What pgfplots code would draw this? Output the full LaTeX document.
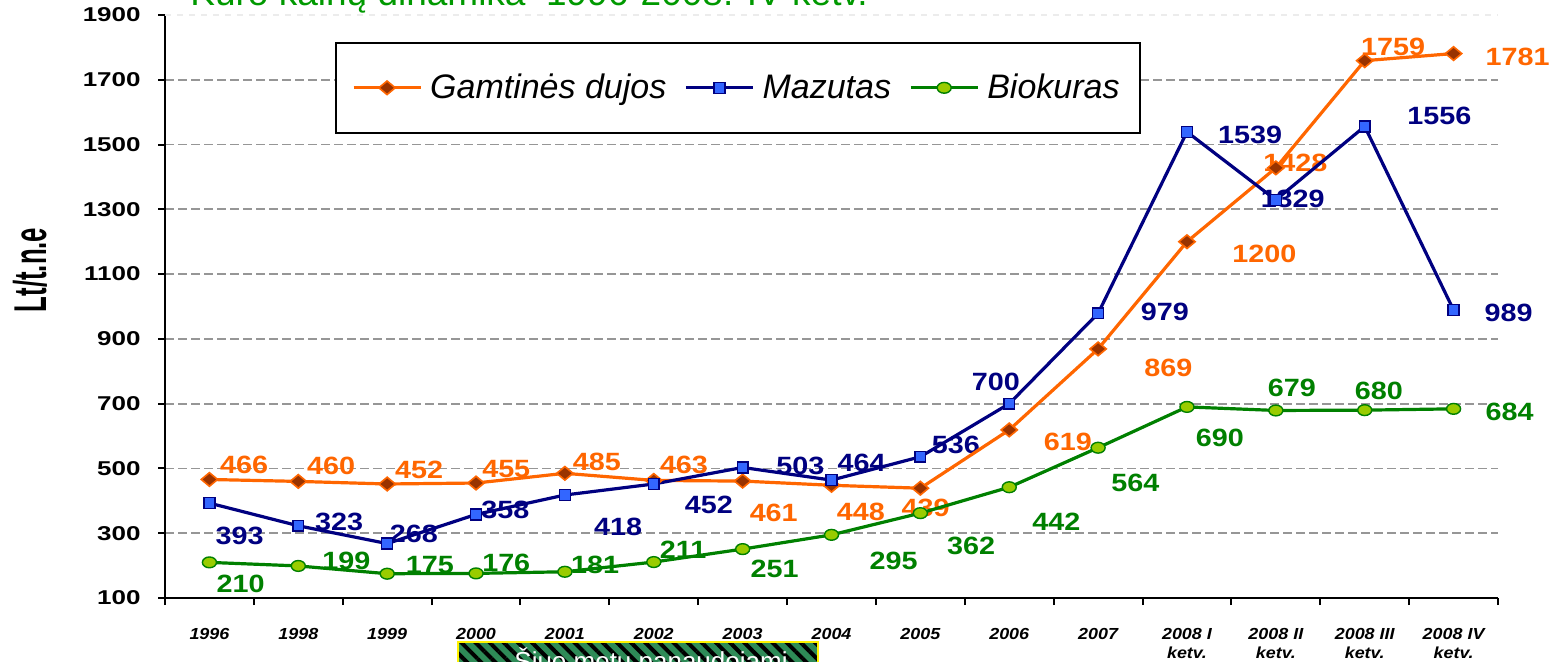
\documentclass[border=0pt]{standalone}
\usepackage{pgfplots}
\pgfplotsset{compat=1.18}
\usepackage{fontspec}
\setmainfont{Liberation Sans}
\usetikzlibrary{patterns.meta}
\definecolor{cOr}{RGB}{255,102,0}
\definecolor{cBr}{RGB}{153,51,0}
\definecolor{cNa}{RGB}{0,0,128}
\definecolor{cBl}{RGB}{51,102,255}
\definecolor{cGr}{RGB}{0,128,0}
\definecolor{cYg}{RGB}{153,204,0}
\definecolor{cTitle}{RGB}{0,153,0}
\definecolor{cGrid}{RGB}{150,150,150}
\definecolor{cBox}{RGB}{46,139,87}
\newcommand{\dl}[1]{\scalebox{1.15}[1]{#1}}
\newcommand{\yl}[1]{\scalebox{1.3}[1]{#1}}
\newcommand{\xl}[1]{\scalebox{1.12}[1]{#1}}
\tikzset{lbl/.style={font=\bfseries\fontsize{12.5}{13}\selectfont, inner sep=0pt}}
\begin{document}
\begin{tikzpicture}
\useasboundingbox (0,0) rectangle (778pt,-331pt);
\clip (0,0) rectangle (778pt,-331pt);
\node[anchor=base west, text=cTitle, font=\fontsize{18.5}{20}\selectfont, inner sep=0pt] at (95pt,-3pt) {Kuro kainų dinamika\ \ 1996-2008. IV ketv.};
\node[rotate=90, inner sep=0pt] at (15pt,-135pt) {\scalebox{0.56}[1]{\bfseries\fontsize{23}{24}\selectfont Lt/t.n.e}};
\fill[cBox] (229pt,-321pt) rectangle (409pt,-345pt);
\fill[pattern={Lines[angle=-45,distance=5pt,line width=2pt]}, pattern color=black] (229pt,-321pt) rectangle (409pt,-345pt);
\draw[yellow, line width=1pt] (229pt,-321pt) rectangle (409pt,-345pt);
\node[anchor=base, text=white, font=\fontsize{13}{14}\selectfont, inner sep=0pt] at (325.5pt,-335.3pt) {Šiuo metu panaudojami};
\begin{axis}[
  at={(82.5pt,-299pt)}, anchor=south west,
  scale only axis, width=666.5pt, height=291.5pt,
  xmin=-0.5, xmax=14.5, ymin=100, ymax=1900,
  axis x line*=bottom, axis y line*=left,
  axis line style={line width=1.2pt, black},
  tick align=outside, major tick length=3.5pt,
  tick style={black, line width=1pt},
  xtick={-0.5,0.5,...,14.5},
  x tick label as interval,
  xticklabels={\xl{1996},\xl{1998},\xl{1999},\xl{2000},\xl{2001},\xl{2002},\xl{2003},\xl{2004},\xl{2005},\xl{2006},\xl{2007},{\xl{2008 I}\\\xl{ketv.}},{\xl{2008 II}\\\xl{ketv.}},{\xl{2008 III}\\\xl{ketv.}},{\xl{2008 IV}\\\xl{ketv.}}},
  xticklabel style={font=\bfseries\itshape\fontsize{8}{9.5}\selectfont, align=center, anchor=north, inner sep=0pt, yshift=-11.5pt},
  ytick={100,300,500,700,900,1100,1300,1500,1700},
  yticklabels={\yl{100},\yl{300},\yl{500},\yl{700},\yl{900},\yl{1100},\yl{1300},\yl{1500},\yl{1700}},
  extra y ticks={1900}, extra y tick labels={\yl{1900}},
  extra y tick style={grid style={gray!15, dashed, line width=0.8pt}},
  yticklabel style={font=\bfseries\fontsize{10}{11}\selectfont, anchor=east, inner sep=0pt, xshift=-8.5pt},
  ymajorgrids,
  grid style={cGrid, line width=0.9pt, dash pattern=on 4.5pt off 2pt},
  clip=false,
  legend columns=3,
  legend image code/.code={\draw[mark repeat=2,mark phase=2] plot coordinates {(0pt,0pt) (16.75pt,0pt) (33.5pt,0pt)};},
  legend style={at={(axis description cs:0.1275,0.9537)}, anchor=north west, draw=black, line width=1pt, fill=white,
    font=\itshape\fontsize{17}{18}\selectfont, inner xsep=8pt, inner ysep=13.5pt,
    /tikz/every even column/.append style={column sep=7pt},
    /tikz/every odd column/.append style={column sep=2pt}},
]
% labels (drawn beneath the series)
\node[lbl, text=cOr] at (axis cs:0.39,510.6) {\dl{466}};
\node[lbl, text=cOr] at (axis cs:1.37,507.5) {\dl{460}};
\node[lbl, text=cOr] at (axis cs:2.36,497) {\dl{452}};
\node[lbl, text=cOr] at (axis cs:3.34,498.3) {\dl{455}};
\node[lbl, text=cOr] at (axis cs:4.36,519.9) {\dl{485}};
\node[lbl, text=cOr] at (axis cs:5.34,510.6) {\dl{463}};
\node[lbl, text=cOr] at (axis cs:6.35,363.4) {\dl{461}};
\node[lbl, text=cOr] at (axis cs:7.33,366.5) {\dl{448}};
\node[lbl, text=cOr] at (axis cs:8.06,377) {\dl{439}};
\node[lbl, text=cOr] at (axis cs:9.66,582.6) {\dl{619}};
\node[lbl, text=cOr] at (axis cs:10.79,809.2) {\dl{869}};
\node[lbl, text=cOr] at (axis cs:11.87,1163) {\dl{1200}};
\node[lbl, text=cOr] at (axis cs:12.22,1442) {\dl{1428}};
\node[lbl, text=cOr] at (axis cs:13.32,1802) {\dl{1759}};
\node[lbl, text=cOr] at (axis cs:14.72,1771) {\dl{1781}};
\node[lbl, text=cNa] at (axis cs:0.34,292.7) {\dl{393}};
\node[lbl, text=cNa] at (axis cs:1.46,334.6) {\dl{323}};
\node[lbl, text=cNa] at (axis cs:2.30,297.6) {\dl{268}};
\node[lbl, text=cNa] at (axis cs:3.33,371.7) {\dl{358}};
\node[lbl, text=cNa] at (axis cs:4.60,319.2) {\dl{418}};
\node[lbl, text=cNa] at (axis cs:5.62,387.1) {\dl{452}};
\node[lbl, text=cNa] at (axis cs:6.65,508.5) {\dl{503}};
\node[lbl, text=cNa] at (axis cs:7.34,517.7) {\dl{464}};
\node[lbl, text=cNa] at (axis cs:8.40,572.4) {\dl{536}};
\node[lbl, text=cNa] at (axis cs:8.85,766) {\dl{700}};
\node[lbl, text=cNa] at (axis cs:10.75,982) {\dl{979}};
\node[lbl, text=cNa] at (axis cs:11.71,1529.5) {\dl{1539}};
\node[lbl, text=cNa] at (axis cs:12.19,1331) {\dl{1329}};
\node[lbl, text=cNa] at (axis cs:13.84,1589) {\dl{1556}};
\node[lbl, text=cNa] at (axis cs:14.62,981) {\dl{989}};
\node[lbl, text=cGr] at (axis cs:0.35,143.2) {\dl{210}};
\node[lbl, text=cGr] at (axis cs:1.54,214.2) {\dl{199}};
\node[lbl, text=cGr] at (axis cs:2.48,201.9) {\dl{175}};
\node[lbl, text=cGr] at (axis cs:3.34,208.1) {\dl{176}};
\node[lbl, text=cGr] at (axis cs:4.34,201.9) {\dl{181}};
\node[lbl, text=cGr] at (axis cs:5.33,248.2) {\dl{211}};
\node[lbl, text=cGr] at (axis cs:6.36,189.5) {\dl{251}};
\node[lbl, text=cGr] at (axis cs:7.70,214.2) {\dl{295}};
\node[lbl, text=cGr] at (axis cs:8.57,260.5) {\dl{362}};
\node[lbl, text=cGr] at (axis cs:9.53,335.6) {\dl{442}};
\node[lbl, text=cGr] at (axis cs:10.42,456.6) {\dl{564}};
\node[lbl, text=cGr] at (axis cs:11.37,594.9) {\dl{690}};
\node[lbl, text=cGr] at (axis cs:12.18,747.4) {\dl{679}};
\node[lbl, text=cGr] at (axis cs:13.16,739.1) {\dl{680}};
\node[lbl, text=cGr] at (axis cs:14.63,675.2) {\dl{684}};
% series
\addplot[cOr, line width=1.6pt, mark=diamond*, mark size=3.4pt,
  mark options={solid, fill=cBr, draw=cOr, line width=0.8pt, xscale=1.6}]
  coordinates {(0,466)(1,460)(2,452)(3,455)(4,485)(5,463)(6,461)(7,448)(8,439)(9,619)(10,869)(11,1200)(12,1428)(13,1759)(14,1781)};
\addlegendentry{Gamtinės dujos}
\addplot[cNa, line width=1.6pt, mark=square*, mark size=2.7pt,
  mark options={solid, fill=cBl, draw=cNa, line width=0.7pt}]
  coordinates {(0,393)(1,323)(2,268)(3,358)(4,418)(5,452)(6,503)(7,464)(8,536)(9,700)(10,979)(11,1539)(12,1329)(13,1556)(14,989)};
\addlegendentry{Mazutas}
\addplot[cGr, line width=1.6pt, mark=*, mark size=2.7pt,
  mark options={solid, fill=cYg, draw=cGr, line width=0.7pt, xscale=1.3}]
  coordinates {(0,210)(1,199)(2,175)(3,176)(4,181)(5,211)(6,251)(7,295)(8,362)(9,442)(10,564)(11,690)(12,679)(13,680)(14,684)};
\addlegendentry{Biokuras}
\end{axis}
\end{tikzpicture}
\end{document}
